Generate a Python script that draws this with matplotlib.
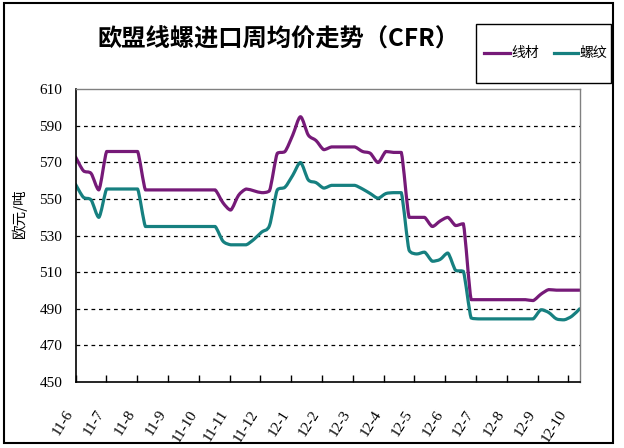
import matplotlib
matplotlib.use("Agg")
import matplotlib.pyplot as plt
import numpy as np
from matplotlib.patches import Rectangle, PathPatch
from matplotlib.lines import Line2D
from matplotlib.path import Path
from matplotlib.transforms import ScaledTranslation

plt.rcParams['font.family'] = ['Noto Sans CJK SC', 'DejaVu Sans']

title = "欧盟线螺进口周均价走势（CFR）"
ylabel = "欧元/吨"
series_names = ["线材", "螺纹"]
month_labels = ["11-6", "11-7", "11-8", "11-9", "11-10", "11-11", "11-12",
                "12-1", "12-2", "12-3", "12-4", "12-5", "12-6", "12-7",
                "12-8", "12-9", "12-10"]

# weekly average prices (EUR/t)
wire_rod = [573, 565.5, 564, 555, 576, 576, 576, 576, 576, 555,
            555, 555, 555, 555, 555, 555, 555, 555, 555, 548,
            544, 552, 555.5, 554.5, 553.5, 554.5, 575, 576, 585, 595,
            585, 582, 577, 578.5, 578.5, 578.5, 578.5, 576, 575, 570,
            576, 575.5, 575.5, 540, 540, 540, 535, 538, 540, 535.5,
            536.5, 495, 495, 495, 495, 495, 495, 495, 495, 494.5,
            498, 500.5, 500.2, 500.2, 500.2, 500.2]
rebar = [558, 551, 549.5, 540, 555.5, 555.5, 555.5, 555.5, 555.5, 535,
         535, 535, 535, 535, 535, 535, 535, 535, 535, 527,
         525, 525, 525, 528, 532, 535.5, 555, 556.5, 563, 570,
         560.5, 559, 556, 557.5, 557.5, 557.5, 557.5, 555.5, 553, 550.5,
         553, 553.5, 553.5, 522, 520, 521, 516, 517, 520.5, 511,
         510.5, 485, 484.5, 484.5, 484.5, 484.5, 484.5, 484.5, 484.5, 484.5,
         489.5, 488, 484.5, 484, 486, 490]

PURPLE = "#761a78"
TEAL = "#168080"

W, H = 624, 448
fig = plt.figure(figsize=(W / 100, H / 100), dpi=100)
fig.patch.set_facecolor("white")

ax = fig.add_axes([75.6 / W, 1 - 382 / H, (579.7 - 75.6) / W, (382 - 89.3) / H])


def smooth_line(ax, xs, ys, color, lw, k=0.14):
    """Excel-style smoothed line: cubic Bezier segments through every data point."""
    p = np.column_stack([xs, ys]).astype(float)
    n = len(p)
    verts = [p[0]]
    codes = [Path.MOVETO]
    for i in range(n - 1):
        p_prev = p[i - 1] if i > 0 else p[i]
        p_next2 = p[i + 2] if i + 2 < n else p[i + 1]
        c1 = p[i] + (p[i + 1] - p_prev) * k
        c2 = p[i + 1] - (p_next2 - p[i]) * k
        lo, hi = sorted((p[i][1], p[i + 1][1]))
        c1[1] = min(max(c1[1], lo), hi)
        c2[1] = min(max(c2[1], lo), hi)
        verts += [c1, c2, p[i + 1]]
        codes += [Path.CURVE4] * 3
    patch = PathPatch(Path(verts, codes), fill=False, edgecolor=color, lw=lw,
                      joinstyle="round", capstyle="round")
    ax.add_patch(patch)


x = np.arange(len(wire_rod))
smooth_line(ax, x, wire_rod, PURPLE, 2.3)
smooth_line(ax, x, rebar, TEAL, 2.3)

ax.set_xlim(0, len(wire_rod) - 1)
ax.set_ylim(450, 610)
yt = np.arange(450, 611, 20)
ax.set_yticks(yt)
ax.set_yticklabels([str(v) for v in yt], family="Liberation Serif", fontsize=11)
ax.tick_params(axis="y", length=0, pad=9.5)
for v in yt[1:-1]:
    ax.axhline(v, color="black", lw=0.9, ls=(0, (3, 3)), zorder=0)

step = (len(wire_rod) - 1) / 16.37
xt = np.arange(len(month_labels)) * step
ax.set_xticks(xt)
ax.set_xticklabels(month_labels, family="Liberation Serif", fontsize=11,
                   rotation=58, ha="right", va="center", rotation_mode="anchor")
ax.tick_params(axis="x", direction="in", length=5, width=1, pad=21)
off = ScaledTranslation(-5 / 100, 0, fig.dpi_scale_trans)
for lab in ax.get_xticklabels():
    lab.set_transform(lab.get_transform() + off)

for s in ["left", "bottom"]:
    ax.spines[s].set_color("black")
    ax.spines[s].set_linewidth(1.2)
for s in ["top", "right"]:
    ax.spines[s].set_color("#808080")
    ax.spines[s].set_linewidth(1.0)

fig.text(19 / W, 1 - 213 / H, ylabel, rotation=90, ha="center", va="center", fontsize=10.5)
fig.text(278 / W, 1 - 40 / H, title, ha="center", va="center", fontsize=17.5, fontweight="bold")

# legend
fig.add_artist(Rectangle((476 / W, 1 - 83 / H), 135 / W, 59 / H, transform=fig.transFigure,
                         fill=False, edgecolor="black", lw=1.0))
ly = 1 - 53 / H
fig.add_artist(Line2D([484 / W, 510 / W], [ly, ly], transform=fig.transFigure, color=PURPLE, lw=2.3))
fig.add_artist(Line2D([554 / W, 578 / W], [ly, ly], transform=fig.transFigure, color=TEAL, lw=2.3))
fig.text(511 / W, ly, series_names[0], ha="left", va="center", fontsize=10)
fig.text(579 / W, ly, series_names[1], ha="left", va="center", fontsize=10)

# outer chart border
fig.add_artist(Rectangle((4 / W, 1 - 443 / H), 609 / W, 440 / H, transform=fig.transFigure,
                         fill=False, edgecolor="black", lw=1.5))

fig.savefig("out.png", dpi=100, facecolor="white")
